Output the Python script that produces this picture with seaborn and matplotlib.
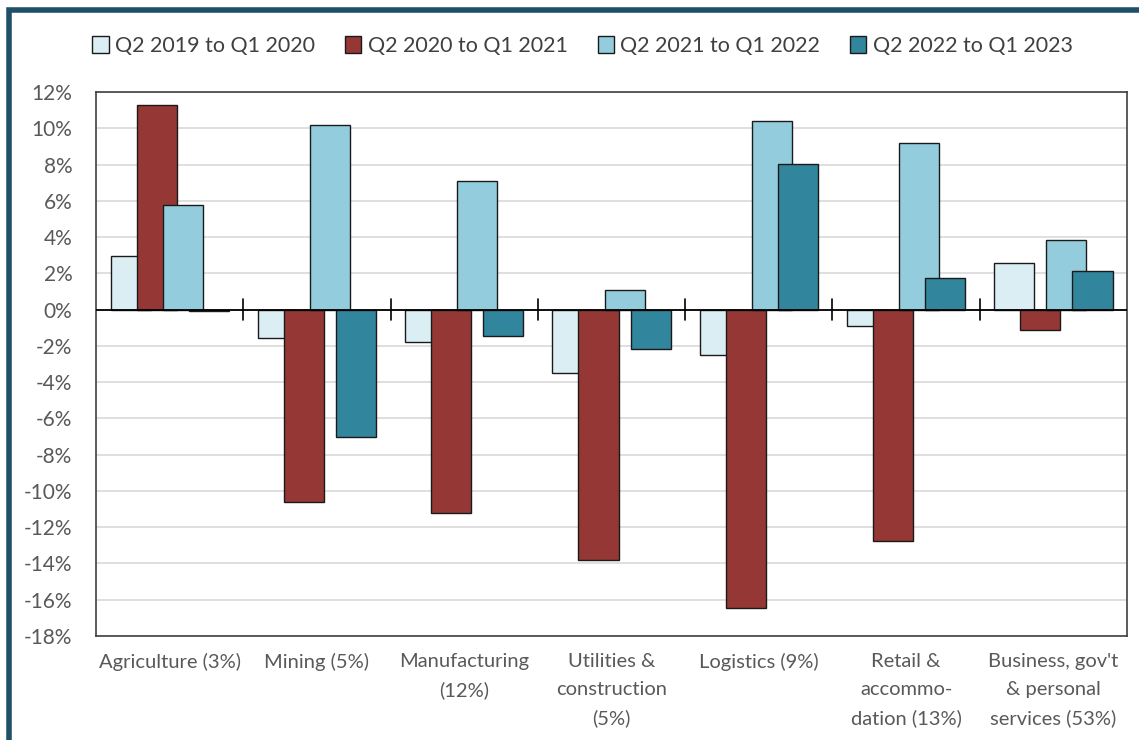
import matplotlib
matplotlib.use("Agg")
import matplotlib.pyplot as plt
import seaborn as sns
import pandas as pd
from matplotlib.ticker import FuncFormatter

sectors = ["Agriculture (3%)", "Mining (5%)", "Manufacturing\n(12%)",
           "Utilities &\nconstruction\n(5%)", "Logistics (9%)",
           "Retail &\naccommo-\ndation (13%)", "Business, gov't\n& personal\nservices (53%)"]
periods = ["Q2 2019 to Q1 2020", "Q2 2020 to Q1 2021", "Q2 2021 to Q1 2022", "Q2 2022 to Q1 2023"]

q2_2019 = [2.95, -1.55, -1.8, -3.5, -2.5, -0.9, 2.55]
q2_2020 = [11.3, -10.6, -11.2, -13.8, -16.45, -12.75, -1.15]
q2_2021 = [5.75, 10.2, 7.1, 1.1, 10.4, 9.2, 3.85]
q2_2022 = [-0.1, -7.05, -1.45, -2.15, 8.05, 1.75, 2.15]

colors = ["#DAEEF3", "#953735", "#93CDDD", "#31859C"]

rows = []
for p, vals in zip(periods, [q2_2019, q2_2020, q2_2021, q2_2022]):
    for s, v in zip(sectors, vals):
        rows.append({"sector": s, "period": p, "value": v})
df = pd.DataFrame(rows)

sns.set_style("white")
plt.rcParams["font.family"] = ["Lato", "DejaVu Sans"]

fig = plt.figure(figsize=(11.39, 7.4), dpi=100)
ax = fig.add_axes([0.0843, 0.1405, 0.9052, 0.7352])

sns.barplot(data=df, x="sector", y="value", hue="period", order=sectors,
            hue_order=periods, palette=colors, width=0.708, saturation=1,
            edgecolor="#1a1a1a", linewidth=1.0, ax=ax, legend=True)

# widen bars so they overlap like the original
new_w = 0.272
for patch in ax.patches:
    if patch.get_height() == 0 and patch.get_width() == 0:
        continue
    cx = patch.get_x() + patch.get_width() / 2
    patch.set_width(new_w)
    patch.set_x(cx - new_w / 2)

ax.set_xlim(-0.5, len(sectors) - 0.5)
ax.set_ylim(-18, 12)
ax.set_yticks(range(-18, 13, 2))
ax.yaxis.set_major_formatter(FuncFormatter(lambda v, _: f"{v:.0f}%"))
ax.grid(axis="y", color="#D9D9D9", linewidth=1.2)
ax.set_axisbelow(True)
ax.set_xlabel("")
ax.set_ylabel("")

ax.tick_params(axis="x", length=0, pad=12, labelsize=14.5, labelcolor="#595959")
ax.tick_params(axis="y", length=0, pad=17, labelsize=15, labelcolor="#595959")
for lab in ax.get_xticklabels():
    lab.set_linespacing(1.78)

for sp in ax.spines.values():
    sp.set_visible(True)
    sp.set_color("#404040")
    sp.set_linewidth(1.2)

# zero line with category separators
ax.axhline(0, color="black", linewidth=1.3, zorder=5)
for b in range(1, len(sectors)):
    ax.plot([b - 0.5, b - 0.5], [-0.6, 0.6], color="black", linewidth=1.2, zorder=5)

leg = ax.legend(loc="center", bbox_to_anchor=(0.472, 1.085), ncol=4, frameon=False,
                fontsize=15.5, handlelength=0.75, handleheight=0.9, handletextpad=0.3,
                columnspacing=1.4, borderaxespad=0)
for t in leg.get_texts():
    t.set_color("#404040")
for h in leg.legend_handles:
    h.set_edgecolor("#1a1a1a")
    h.set_linewidth(1.0)

# dark frame around the chart
frame = plt.Rectangle((8.5 / 1139, -0.2), 1.3, 1.2 - 9.5 / 740, transform=fig.transFigure,
                      fill=False, edgecolor="#1F5068", linewidth=4, clip_on=False)
fig.patches.append(frame)

fig.savefig("out.png", dpi=100)
